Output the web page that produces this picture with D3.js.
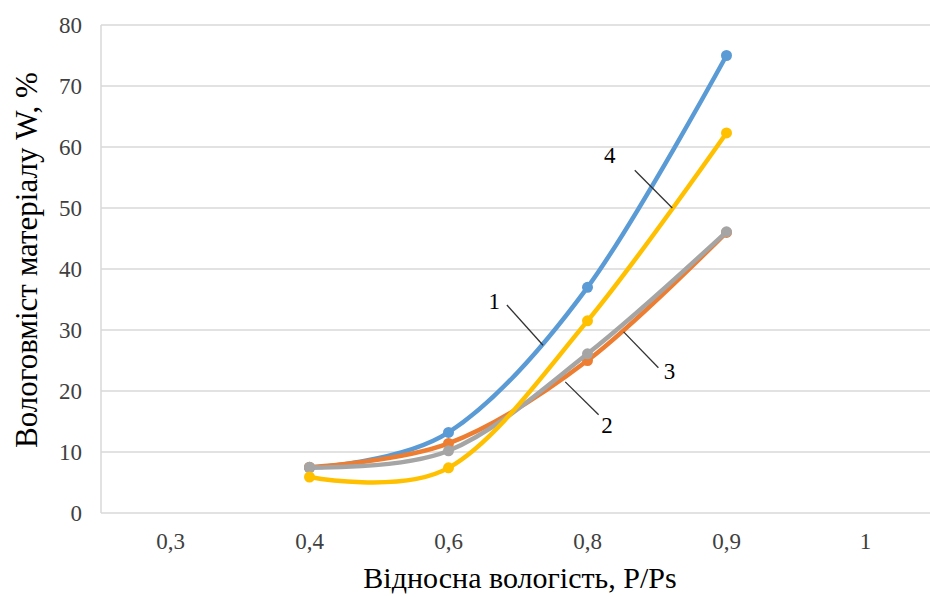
<!DOCTYPE html>
<html>
<head>
<meta charset="utf-8">
<script src="https://cdn.jsdelivr.net/npm/d3@7"></script>
<style>
  html, body { margin: 0; padding: 0; background: #fff; }
  svg { display: block; font-family: "Liberation Serif", "Times New Roman", serif; }
</style>
</head>
<body>
<svg id="chart" width="930" height="597"></svg>
<script>
// Relative humidity categories (x axis) and moisture content series (y, %)
const categories = ["0,3", "0,4", "0,6", "0,8", "0,9", "1"];
const series1 = [null, 7.4, 13.2, 37.0, 75.0];
const series2 = [null, 7.5, 11.4, 25.0, 46.0];
const series3 = [null, 7.5, 10.2, 26.1, 46.1];
const series4 = [null, 5.9, 7.4, 31.5, 62.3];
const seriesNames = ["1", "2", "3", "4"];
const seriesColors = ["#5B9BD5", "#ED7D31", "#A5A5A5", "#FFC000"];
const yTicks = [0, 10, 20, 30, 40, 50, 60, 70, 80];
const yTitle = "Вологовміст матеріалу W, %";
const xTitle = "Відносна вологість, P/Ps";

// Callout leaders: positions in category-index / value units
const callouts = [
  { label: "1", x1: 2.42, y1: 34.1, x2: 2.68, y2: 27.5, lx: 2.33, ly: 34.3 },
  { label: "2", x1: 2.84, y1: 21.5, x2: 3.08, y2: 16.1, lx: 3.14, ly: 14.0 },
  { label: "3", x1: 3.26, y1: 29.7, x2: 3.51, y2: 23.8, lx: 3.59, ly: 22.9 },
  { label: "4", x1: 3.34, y1: 56.2, x2: 3.61, y2: 50.0, lx: 3.16, ly: 58.3 }
];

const svg = d3.select("#chart");
const plot = { left: 101, right: 935, top: 25, bottom: 513 };

const x = d3.scaleBand().domain(categories).range([plot.left, plot.right]).padding(0);
const xIdx = d3.scaleLinear()
  .domain([0, 1])
  .range([x(categories[0]) + x.bandwidth() / 2, x(categories[1]) + x.bandwidth() / 2]);
const y = d3.scaleLinear().domain([0, 80]).range([plot.bottom, plot.top]);

// Horizontal gridlines
svg.append("g")
  .selectAll("line")
  .data(yTicks)
  .join("line")
  .attr("x1", plot.left).attr("x2", plot.right)
  .attr("y1", d => y(d)).attr("y2", d => y(d))
  .attr("stroke", "#d9d9d9").attr("stroke-width", 1.5);

// Left frame edge
svg.append("line")
  .attr("x1", plot.left).attr("x2", plot.left)
  .attr("y1", y(80)).attr("y2", y(0))
  .attr("stroke", "#d9d9d9").attr("stroke-width", 1.5);

// Y axis labels
const yAxis = d3.axisLeft(y).tickValues(yTicks).tickSize(0).tickPadding(0);
const gy = svg.append("g").attr("transform", `translate(${plot.left - 19},0)`).call(yAxis);
gy.select(".domain").remove();
gy.attr("font-family", null);
gy.selectAll("text")
  .attr("font-family", "Liberation Serif, serif")
  .attr("font-size", 23).attr("fill", "#404040");

// X axis labels
const xAxis = d3.axisBottom(x).tickSize(0).tickPadding(0);
const gx = svg.append("g").attr("transform", `translate(0,${plot.bottom + 20})`).call(xAxis);
gx.select(".domain").remove();
gx.attr("font-family", null);
gx.selectAll("text")
  .attr("font-family", "Liberation Serif, serif")
  .attr("font-size", 23).attr("fill", "#404040");

// Axis titles
svg.append("text")
  .attr("transform", `translate(37,${(plot.top + plot.bottom) / 2 - 9}) rotate(-90)`)
  .attr("text-anchor", "middle")
  .attr("font-size", 31).attr("fill", "#000")
  .text(yTitle);

svg.append("text")
  .attr("x", 520).attr("y", 588)
  .attr("text-anchor", "middle")
  .attr("font-size", 30).attr("fill", "#000")
  .text(xTitle);

// Smoothed series lines with markers
const allSeries = [series1, series2, series3, series4];
const line = d3.line()
  .defined(d => d.v != null)
  .x(d => x(d.c) + x.bandwidth() / 2)
  .y(d => y(d.v))
  .curve(d3.curveCatmullRom.alpha(0));

allSeries.forEach((vals, i) => {
  const pts = vals.map((v, j) => ({ c: categories[j], v })).filter(d => d.v != null);
  const g = svg.append("g").attr("class", "series-" + seriesNames[i]);
  g.append("path")
    .datum(pts)
    .attr("d", line)
    .attr("fill", "none")
    .attr("stroke", seriesColors[i])
    .attr("stroke-width", 4.5)
    .attr("stroke-linecap", "round");
  g.selectAll("circle")
    .data(pts)
    .join("circle")
    .attr("cx", d => x(d.c) + x.bandwidth() / 2)
    .attr("cy", d => y(d.v))
    .attr("r", 5.5)
    .attr("fill", seriesColors[i]);
});

// Callout leaders and numbers
const cg = svg.append("g");
cg.selectAll("line")
  .data(callouts)
  .join("line")
  .attr("x1", d => xIdx(d.x1)).attr("y1", d => y(d.y1))
  .attr("x2", d => xIdx(d.x2)).attr("y2", d => y(d.y2))
  .attr("stroke", "#333").attr("stroke-width", 1.3);
cg.selectAll("text")
  .data(callouts)
  .join("text")
  .attr("x", d => xIdx(d.lx)).attr("y", d => y(d.ly))
  .attr("text-anchor", "middle")
  .attr("dominant-baseline", "middle")
  .attr("font-size", 23).attr("fill", "#000")
  .text(d => d.label);
</script>
</body>
</html>
